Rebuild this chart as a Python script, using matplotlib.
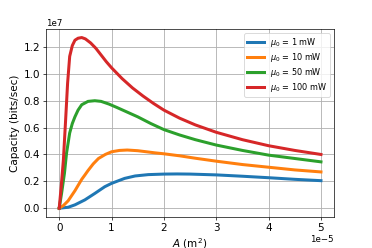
import matplotlib
matplotlib.use("Agg")
import matplotlib.pyplot as plt

# area in units of 1e-5 m^2, capacity in units of 1e7 bits/sec
x_1mw = [0, 0.17, 0.3, 0.49, 0.68, 0.87, 1.0, 1.25, 1.45, 1.7, 2.0, 2.25, 2.5, 3.0, 3.5, 4.0, 4.5, 5.0]
c_1mw = [0, 0.007, 0.025, 0.062, 0.11, 0.16, 0.185, 0.222, 0.24, 0.25, 0.254, 0.255, 0.254, 0.248,
         0.238, 0.227, 0.215, 0.205]

x_10mw = [0, 0.08, 0.17, 0.3, 0.43, 0.49, 0.55, 0.65, 0.75, 0.88, 1.0, 1.15, 1.3, 1.5, 1.83, 2.0, 2.3,
          2.6, 3.0, 3.5, 4.0, 4.5, 5.0]
c_10mw = [0, 0.02, 0.055, 0.13, 0.215, 0.247, 0.28, 0.33, 0.37, 0.40, 0.42, 0.43, 0.433, 0.428,
          0.412, 0.405, 0.39, 0.372, 0.35, 0.325, 0.305, 0.285, 0.27]

x_50mw = [0, 0.045, 0.1, 0.14, 0.2, 0.25, 0.3, 0.36, 0.43, 0.55, 0.68, 0.8, 0.95, 1.1, 1.3, 1.5, 1.75,
          2.0, 2.3, 2.6, 3.0, 3.5, 4.0, 4.5, 5.0]
c_50mw = [0, 0.11, 0.26, 0.41, 0.56, 0.63, 0.68, 0.73, 0.77, 0.795, 0.80, 0.795, 0.775, 0.75, 0.715,
          0.68, 0.63, 0.585, 0.545, 0.51, 0.47, 0.43, 0.395, 0.37, 0.345]

x_100mw = [0, 0.04, 0.08, 0.12, 0.16, 0.2, 0.25, 0.3, 0.36, 0.43, 0.5, 0.6, 0.7, 0.8, 0.9, 1.0, 1.2,
           1.4, 1.6, 1.8, 2.0, 2.3, 2.6, 3.0, 3.5, 4.0, 4.5, 5.0]
c_100mw = [0, 0.17, 0.36, 0.64, 0.93, 1.13, 1.21, 1.25, 1.265, 1.27, 1.26, 1.23, 1.19, 1.14, 1.09,
           1.045, 0.965, 0.895, 0.835, 0.78, 0.73, 0.67, 0.62, 0.565, 0.51, 0.465, 0.43, 0.40]

labels = [r'$\mu_0$ = 1 mW', r'$\mu_0$ = 10 mW', r'$\mu_0$ = 50 mW', r'$\mu_0$ = 100 mW']
series = [(x_1mw, c_1mw), (x_10mw, c_10mw), (x_50mw, c_50mw), (x_100mw, c_100mw)]

fig = plt.figure(figsize=(6, 4), dpi=62)
ax = fig.add_axes([0.124, 0.126, 0.774, 0.757])

for (xs, cs), lab in zip(series, labels):
    ax.plot([v * 1e-5 for v in xs], [v * 1e7 for v in cs], lw=3.5, label=lab,
            solid_joinstyle='round')

ax.grid(True, lw=1.0)
ax.set_xlabel(r'$A$ (m$^2$)', fontsize=12)
ax.set_ylabel('Capacity (bits/sec)', fontsize=12)
ax.tick_params(labelsize=12)
ax.xaxis.get_offset_text().set_fontsize(10)
ax.yaxis.get_offset_text().set_fontsize(10)
ax.legend(loc='upper right', fontsize=9.5, labelspacing=0.25, borderpad=0.35)

fig.savefig("out.png", dpi=62)
